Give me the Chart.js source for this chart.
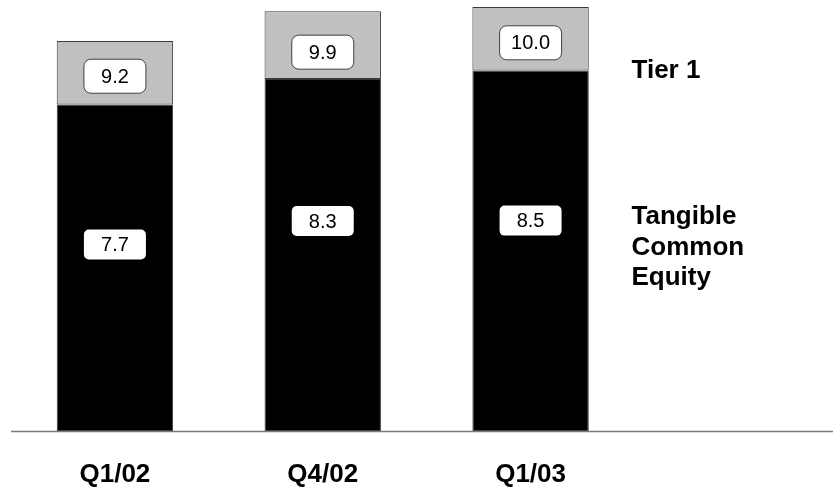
<!DOCTYPE html>
<html>
<head>
<meta charset="utf-8">
<style>
  html, body { margin: 0; padding: 0; background: #ffffff; }
  #wrap { width: 833px; height: 487px; }
</style>
<script src="https://cdn.jsdelivr.net/npm/chart.js@4/dist/chart.umd.min.js"></script>
</head>
<body>
<div id="wrap"><canvas id="c" width="833" height="487"></canvas></div>
<script>
// Capital ratios (%) by quarter
const quarters = ['Q1/02', 'Q4/02', 'Q1/03'];
const tangibleCommonEquity = [7.7, 8.3, 8.5];
const tier1 = [9.2, 9.9, 10.0];
const seriesNames = ['Tier 1', 'Tangible Common Equity'];

const FONT = '"Liberation Sans", Arial, Helvetica, sans-serif';

// Value boxes, baseline and the series names on the right
const annotate = {
  id: 'annotate',
  afterDatasetsDraw(chart, args, opts) {
    const ctx = chart.ctx;
    const ys = chart.scales.y;
    const tce = chart.getDatasetMeta(0).data;
    const t1 = chart.getDatasetMeta(1).data;

    function box(cx, cy, w, h, r, text, stroke) {
      ctx.save();
      ctx.beginPath();
      ctx.roundRect(cx - w / 2, cy - h / 2, w, h, r);
      ctx.fillStyle = '#ffffff';
      ctx.fill();
      if (stroke) {
        ctx.lineWidth = 1;
        ctx.strokeStyle = '#404040';
        ctx.stroke();
      }
      ctx.fillStyle = '#000000';
      ctx.font = '20px ' + FONT;
      ctx.textAlign = 'center';
      ctx.textBaseline = 'middle';
      ctx.fillText(text, cx, cy + 1);
      ctx.restore();
    }

    tce.forEach((bar, i) => {
      const top = ys.getPixelForValue(tangibleCommonEquity[i]);
      box(bar.x, top + opts.innerDrop[i], 62, 30, 5, tangibleCommonEquity[i].toFixed(1), false);
    });
    t1.forEach((bar, i) => {
      const a = ys.getPixelForValue(tangibleCommonEquity[i]);
      const b = ys.getPixelForValue(tier1[i]);
      box(bar.x, (a + b) / 2 + opts.outerShift[i], 62, 34, 7, tier1[i].toFixed(1), true);
    });

    // baseline running out to the right edge
    const y0 = Math.round(ys.getPixelForValue(0)) + 0.5;
    ctx.save();
    ctx.strokeStyle = '#7a7a7a';
    ctx.lineWidth = 1.5;
    ctx.beginPath();
    ctx.moveTo(chart.chartArea.left, y0);
    ctx.lineTo(chart.width, y0);
    ctx.stroke();

    // series names
    ctx.fillStyle = '#000000';
    ctx.font = 'bold 26px ' + FONT;
    ctx.textAlign = 'left';
    ctx.textBaseline = 'alphabetic';
    const lx = chart.chartArea.right - 3;
    ctx.fillText(seriesNames[0], lx, 78);
    const words = seriesNames[1].split(' ');
    words.forEach((w, k) => ctx.fillText(w, lx, 224 + k * 30.5));
    ctx.restore();
  }
};

new Chart(document.getElementById('c'), {
  type: 'bar',
  data: {
    labels: quarters,
    datasets: [
      {
        label: seriesNames[1],
        data: tangibleCommonEquity,
        backgroundColor: '#000000',
        borderColor: '#3a3a3a',
        borderWidth: 1,
        borderSkipped: false,
        grouped: false,
        order: 2
      },
      {
        label: seriesNames[0],
        data: tier1.map((v, i) => [tangibleCommonEquity[i], v]),
        backgroundColor: '#c0c0c0',
        borderColor: '#3a3a3a',
        borderWidth: 1,
        borderSkipped: false,
        grouped: false,
        order: 1
      }
    ]
  },
  options: {
    responsive: false,
    animation: false,
    devicePixelRatio: 1,
    layout: { padding: { top: 7, left: 11, right: 198.5, bottom: 0 } },
    barPercentage: 0.56,
    categoryPercentage: 1.0,
    plugins: {
      legend: { display: false },
      tooltip: { enabled: false },
      annotate: { innerDrop: [140, 142, 150], outerShift: [3.5, 7, 4] }
    },
    scales: {
      x: {
        grid: { display: false, drawTicks: false },
        border: { display: false },
        ticks: {
          color: '#000000',
          font: { family: FONT, size: 26, weight: 'bold' },
          padding: 28
        },
        afterFit(scale) { scale.height = 56; }
      },
      y: {
        display: false,
        min: 0,
        max: 10
      }
    }
  },
  plugins: [annotate]
});
</script>
</body>
</html>
